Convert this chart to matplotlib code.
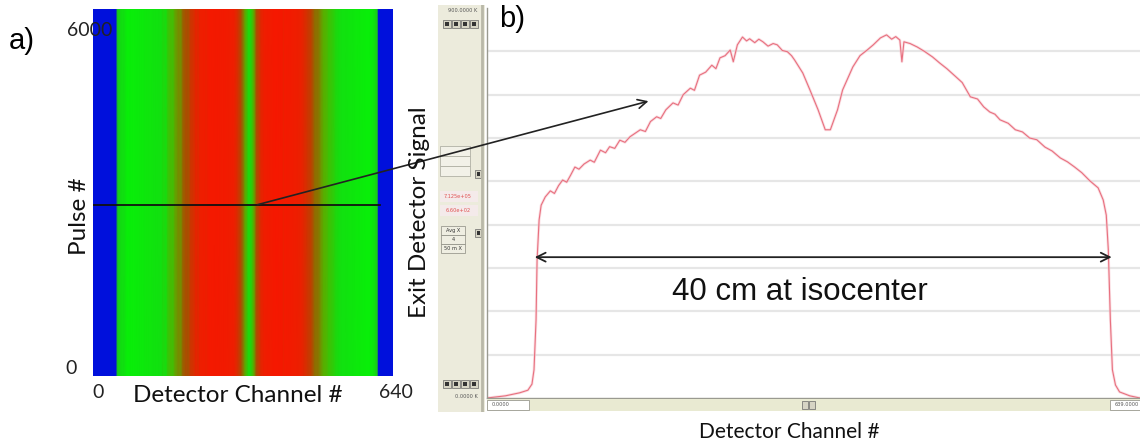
import matplotlib
matplotlib.use("Agg")
import matplotlib.pyplot as plt
import numpy as np
from matplotlib.colors import LinearSegmentedColormap
from matplotlib.patches import Rectangle, ConnectionPatch

W, H = 1140, 446

# exit detector profile read off panel b) (channel, signal in K)
channels = [0, 18, 32, 40, 44, 46, 48, 49, 51, 53, 57, 62, 66, 70, 74, 78, 82,
            86, 90, 95, 101, 105, 111, 116, 120, 125, 130, 135, 140, 145, 150,
            155, 160, 166, 170, 175, 182, 187, 192, 199, 203, 208, 214, 220,
            224, 228, 233, 238, 241, 245, 250, 254, 257, 262, 266, 270, 275,
            280, 284, 289, 294, 298, 301, 309, 316, 324, 331, 336, 343, 348,
            358, 365, 372, 378, 385, 391, 396, 400, 404, 406, 408, 414, 421,
            428, 436, 443, 450, 458, 465, 473, 480, 486, 492, 497, 502, 510,
            517, 524, 531, 538, 546, 553, 561, 568, 575, 582, 590, 598, 603,
            606, 608, 610, 612, 615, 619, 629, 639]
signal = [0, 5, 12, 18, 32, 65, 180, 318, 411, 445, 464, 478, 472, 490, 503,
          498, 515, 533, 528, 540, 549, 544, 572, 566, 580, 576, 595, 590, 603,
          611, 619, 615, 638, 649, 645, 665, 681, 676, 700, 715, 710, 745, 752,
          768, 760, 785, 790, 803, 776, 815, 833, 824, 829, 820, 828, 822, 812,
          818, 815, 802, 799, 790, 780, 750, 711, 665, 619, 619, 665, 711, 764,
          790, 803, 815, 831, 838, 828, 834, 826, 776, 822, 818, 810, 800, 787,
          773, 760, 743, 728, 695, 690, 672, 660, 655, 642, 634, 619, 614, 600,
          596, 579, 570, 554, 545, 533, 520, 501, 485, 457, 422, 342, 180, 65,
          30, 14, 5, 0]
n_channels = 640
n_pulses = 6000
pulse_row = 2800
full_scale = 900
grid_levels = [100, 200, 300, 400, 500, 600, 700, 800]
field_edges = [44, 614]


def box(x, y, w, h):
    # pixel box, origin top-left -> figure fraction
    return [x / W, 1 - (y + h) / H, w / W, h / H]


def label(x, y, s, **kw):
    kw.setdefault("ha", "center")
    kw.setdefault("va", "center")
    fig.text(x / W, 1 - y / H, s, **kw)


fig = plt.figure(figsize=(W / 100, H / 100), dpi=100)
fig.patch.set_facecolor("white")

# ---- a) sinogram-like image of the profile repeated over pulses
cmap = LinearSegmentedColormap.from_list("rgb", [
    (0.0, "#0010dc"), (0.44, "#0010dc"), (0.47, "#20c020"), (0.56, "#08f008"),
    (0.68, "#12e010"), (0.735, "#58b000"), (0.79, "#a85000"), (0.86, "#ec2000"),
    (1.0, "#ff1000")])
ax1 = fig.add_axes(box(93, 9, 300, 367))
X, Y = np.meshgrid(channels, [0, n_pulses])
C = np.tile(signal, (2, 1))
ax1.pcolormesh(X, Y, C, shading="gouraud", cmap=cmap, vmin=0, vmax=full_scale)
ax1.plot([0, 612], [pulse_row, pulse_row], color="#111111", lw=1.3)
ax1.set_xlim(0, n_channels - 1)
ax1.set_ylim(0, n_pulses)
ax1.axis("off")

lab_font = "Lato"
label(90, 31, "6000", fontsize=14, family=lab_font, color="#222222", zorder=5)
label(71, 368, "0", fontsize=14, family=lab_font, color="#222222")
label(98, 392, "0", fontsize=14, family=lab_font, color="#222222")
label(396, 392, "640", fontsize=14, family=lab_font, color="#222222")
label(238, 396, "Detector Channel #", fontsize=17.5, family=lab_font, color="#111111")
label(80, 216, "Pulse #", fontsize=17.5, family=lab_font, rotation=90, color="#111111")
label(22, 41, "a)", fontsize=21, family="Liberation Sans")

# ---- b) software screenshot of the profile
ax2 = fig.add_axes(box(487, 8, 653, 390))
ax2.set_xlim(0, n_channels - 1)
ax2.set_ylim(0, full_scale)
for g in grid_levels:
    ax2.axhline(g, color="#e6e6e6", lw=1.6, zorder=0)
ax2.plot(channels, signal, color="#f8c8d0", lw=2.0, alpha=0.6)
ax2.plot(channels, signal, color="#e8707f", lw=0.8)
ax2.set_xticks([])
ax2.set_yticks([])
for s in ["top", "right"]:
    ax2.spines[s].set_visible(False)
for s in ["left", "bottom"]:
    ax2.spines[s].set_color("#9a9a90")
    ax2.spines[s].set_linewidth(1.0)
ax2.annotate("", xy=(field_edges[0], 325), xytext=(field_edges[1], 325),
             arrowprops=dict(arrowstyle="<->", color="#222222", lw=1.3,
                             mutation_scale=16))
ax2.text(306, 245, "40 cm at isocenter", fontsize=22.5, family="Liberation Sans",
         ha="center", va="center", color="#111111")

# side toolbar
side = fig.add_axes(box(438, 5, 47, 407))
side.set_facecolor("#ecebdc")
side.set_xlim(0, 47)
side.set_ylim(407, 0)
side.set_xticks([])
side.set_yticks([])
for s in side.spines.values():
    s.set_visible(False)
side.axvline(44, color="#b9b8a8", lw=2)
tiny = dict(fontsize=3.6, ha="center", va="center", family="DejaVu Sans")
side.text(25, 6, "900.0000 K", color="#555555", **tiny)
for yb in [15, 375]:
    for xb in [5, 14, 23, 32]:
        side.add_patch(Rectangle((xb, yb), 8, 8, fc="#d6d4c4", ec="#666666", lw=0.5))
        side.add_patch(Rectangle((xb + 2, yb + 2), 4, 4, fc="#333333", ec="none"))
for yb in [141, 151, 161]:
    side.add_patch(Rectangle((2, yb), 30, 10, fc="#f2f1e8", ec="#b0b0a4", lw=0.6))
for yb in [165, 224]:
    side.add_patch(Rectangle((37, yb), 6, 8, fc="#d6d4c4", ec="#666666", lw=0.5))
    side.add_patch(Rectangle((38.5, yb + 2), 3, 4, fc="#333333", ec="none"))
side.add_patch(Rectangle((2, 186), 38, 11, fc="#f4eaea", ec="none"))
side.add_patch(Rectangle((2, 200), 38, 11, fc="#f4eaea", ec="none"))
side.text(20, 192, "7.125e+05", color="#e05050", **tiny)
side.text(20, 206, "6.60e+02", color="#e05050", **tiny)
for yb, t in zip([221, 230, 239], ["Avg X", "4", "50 m X"]):
    side.add_patch(Rectangle((3, yb), 24, 9, fc="#efeee2", ec="#8a8a80", lw=0.5))
    side.text(15, yb + 4.5, t, color="#333333", **tiny)
side.text(28, 392, "0.0000 K", color="#555555", **tiny)

# bottom scroll bar
scroll = fig.add_axes(box(487, 399, 653, 12))
scroll.set_facecolor("#e9ead2")
scroll.set_xlim(0, 653)
scroll.set_ylim(12, 0)
scroll.set_xticks([])
scroll.set_yticks([])
for s in scroll.spines.values():
    s.set_visible(False)
scroll.add_patch(Rectangle((0, 1), 42, 10, fc="white", ec="#9a9a90", lw=0.6))
scroll.add_patch(Rectangle((623, 1), 30, 10, fc="white", ec="#9a9a90", lw=0.6))
scroll.add_patch(Rectangle((315, 2), 6, 8, fc="#d6d4c4", ec="#666666", lw=0.5))
scroll.add_patch(Rectangle((322, 2), 6, 8, fc="#d6d4c4", ec="#666666", lw=0.5))
scroll.text(14, 6, "0.0000", color="#555555", **tiny)
scroll.text(640, 6, "639.0000", color="#555555", **tiny)

label(512, 19, "b)", fontsize=21, family="Liberation Sans")
label(420, 212, "Exit Detector Signal", fontsize=17.5, family=lab_font,
      rotation=90, color="#111111")
label(789, 432, "Detector Channel #", fontsize=15, family=lab_font, color="#111111")

# arrow from the selected pulse row to the plotted profile
fig.add_artist(ConnectionPatch(xyA=(350, pulse_row), coordsA=ax1.transData,
                               xyB=(158, 685), coordsB=ax2.transData,
                               arrowstyle="->", color="#222222", lw=1.2,
                               mutation_scale=16))

fig.savefig("out.png", dpi=100, facecolor="white")
